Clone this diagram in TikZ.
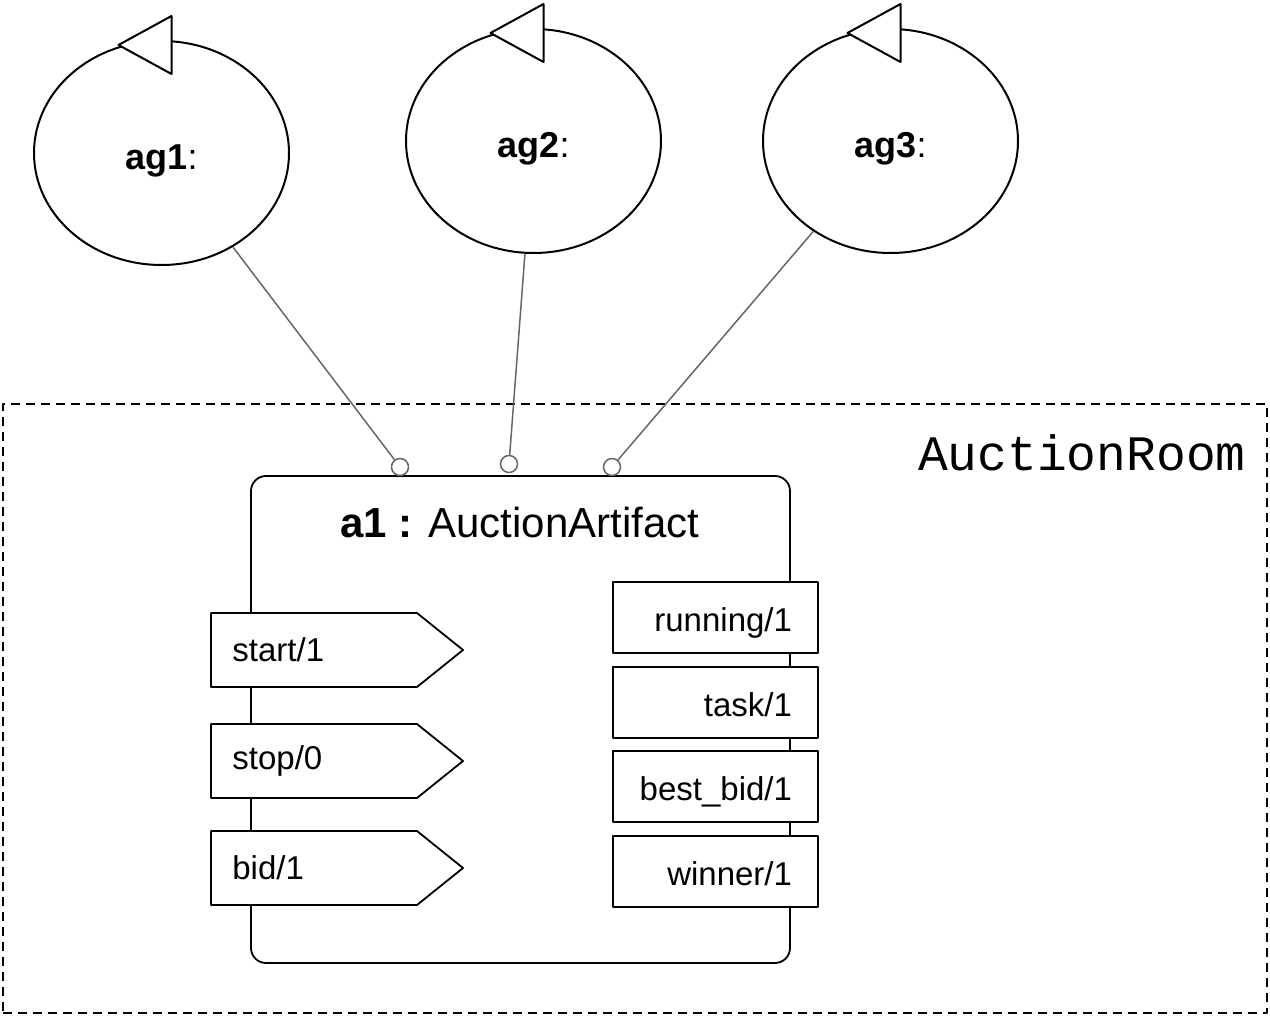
\documentclass[tikz,border=0pt]{standalone}
\usepackage{fontspec}
\setmainfont{Liberation Sans}
\setmonofont{Liberation Mono}
\usetikzlibrary{shapes.geometric}
\begin{document}
\begin{tikzpicture}[x=0.5pt,y=-0.5pt,line join=round,
	agent/.style={ellipse,draw,line width=1pt,minimum width=127.5pt,minimum height=112pt,text height=17pt,text depth=0pt,font=\fontsize{18}{21}\selectfont},
	tri/.style={draw,fill=white,line width=1pt},
	conn/.style={draw=black!60,line width=0.75pt},
	port/.style={circle,draw=black!60,fill=white,line width=0.75pt,minimum size=8.5pt,inner sep=0pt},
	artbox/.style={draw,line width=0.9pt,rounded corners=7.5pt,minimum width=269.5pt,minimum height=243.5pt},
	opbox/.style={draw,fill=white,line width=0.9pt},
	propbox/.style={draw,fill=white,line width=0.9pt,text width=76.5pt,inner xsep=13pt,align=right,minimum height=35.5pt,text height=14pt,text depth=0pt,font=\fontsize{16.5}{19}\selectfont},
	lbl/.style={inner sep=0pt,font=\fontsize{16.5}{19}\selectfont}]
	\useasboundingbox (0,0) rectangle (1270,1016);
	\node[draw,line width=0.75pt,dash pattern=on 4.5pt off 3pt,minimum width=632pt,minimum height=304.5pt] (room) at (635,708.5) {};
	\node[anchor=base east,inner sep=0pt,font=\ttfamily\fontsize{24.8}{28}\selectfont] (roomname) at (1246,470) {AuctionRoom};
	\node[agent] (ag1) at (161.5,153) {\textbf{ag1}:};
	\node[agent] (ag2) at (533.5,141) {\textbf{ag2}:};
	\node[agent] (ag3) at (890.5,141) {\textbf{ag3}:};
	\foreach \a in {ag1,ag2,ag3}
		\draw[tri,shift={(\a.north)}] (10,-24) -- (10,34) -- (-43,5) -- cycle;
	\node[artbox] (art) at (520.5,719.5) {};
	\node[anchor=base,inner sep=0pt,font=\fontsize{21}{25}\selectfont] (title) at (520,538) {\textbf{a1 :} AuctionArtifact};
	\node[port] (p1) at (400,467) {};
	\node[port] (p2) at (509,464) {};
	\node[port] (p3) at (612,467) {};
	\draw[conn] (ag1) -- (p1);
	\draw[conn] (ag2) -- (p2);
	\draw[conn] (ag3) -- (p3);
	\foreach \n/\k/\y [count=\i] in {start/1/650,stop/0/761,bid/1/868}{
		\draw[opbox] (211,\y-37) -- (417,\y-37) -- (463,\y) -- (417,\y+37) -- (211,\y+37) -- cycle;
		\node[lbl,anchor=west] (op\i) at (232,\y) {\n/\k};
	}
	\foreach \n/\k/\y [count=\i] in {running/1/617.5,task/1/702.5,best\_bid/1/786.5,winner/1/871.5}
		\node[propbox] (prop\i) at (715.5,\y) {\n/\k};
\end{tikzpicture}
\end{document}
